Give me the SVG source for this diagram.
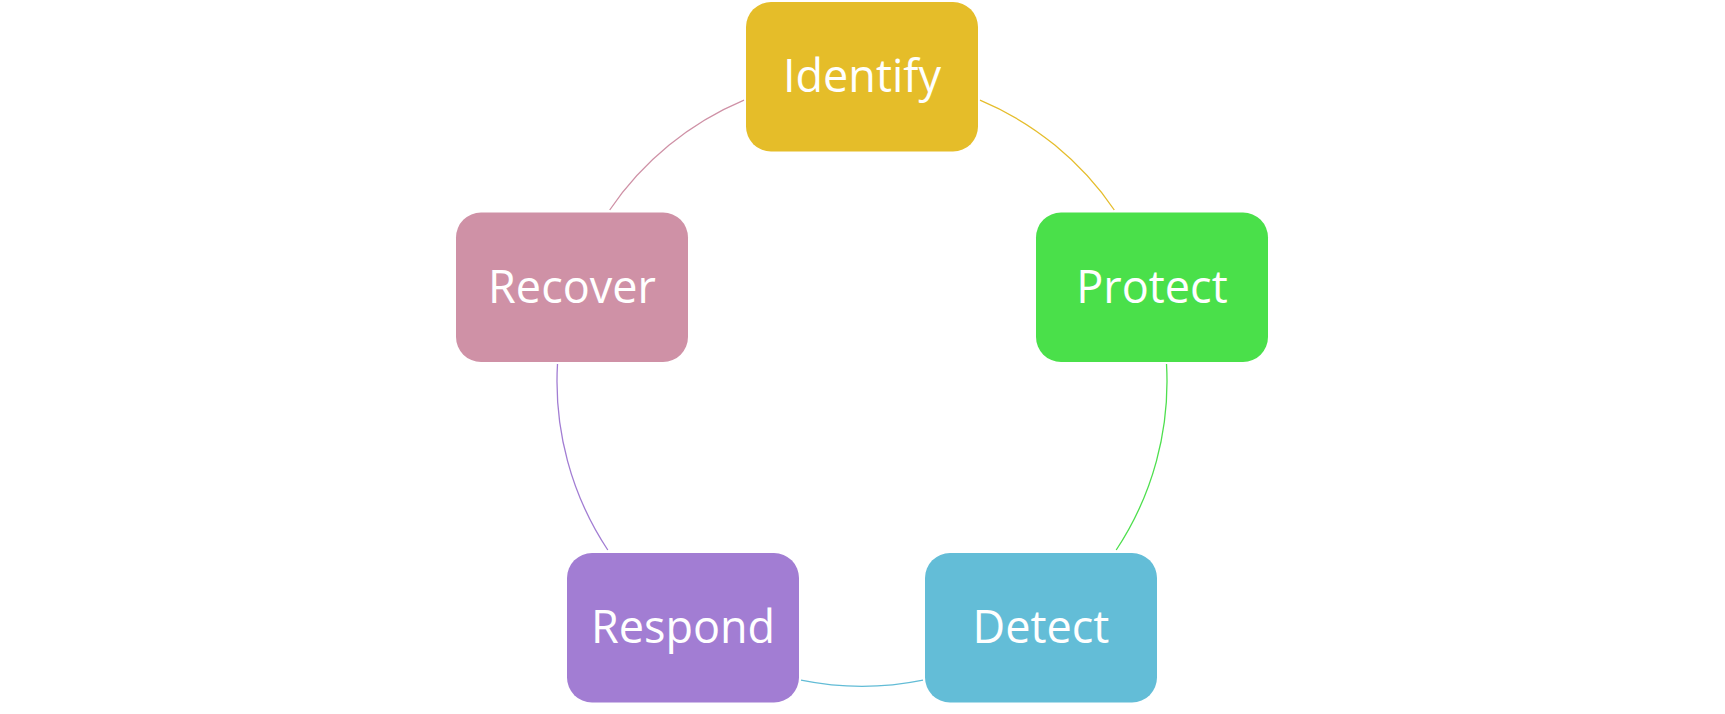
<svg xmlns="http://www.w3.org/2000/svg" width="1725" height="714" viewBox="0 0 1725 714">
<style>
.box{stroke:none}
.lbl{font-family:"Open Sans","Noto Sans","Liberation Sans",sans-serif;font-size:45px;fill:#ffffff;text-anchor:middle}
.arc{fill:none;stroke-width:1.3}
</style>
<rect width="1725" height="714" fill="#ffffff"/>
<g id="connectors">
<path class="arc" stroke="#E5BD2C" d="M980,100.2 A305,305 0 0 1 1114.3,210"/>
<path class="arc" stroke="#4EDF4E" d="M1166.5,364 A305,305 0 0 1 1116.2,550"/>
<path class="arc" stroke="#62BCD6" d="M923,680.2 A305,305 0 0 1 801,680.2"/>
<path class="arc" stroke="#A27DD3" d="M607.8,550 A305,305 0 0 1 557.5,364"/>
<path class="arc" stroke="#CF91A6" d="M609.7,210 A305,305 0 0 1 744,100.2"/>
</g>
<g id="identify">
<rect class="box" x="746" y="2" width="232" height="149.5" rx="25" fill="#E5BD29"/>
<text class="lbl" x="862" y="92">Identify</text>
</g>
<g id="protect">
<rect class="box" x="1036" y="212.5" width="232" height="149.5" rx="25" fill="#4AE04A"/>
<text class="lbl" x="1152" y="303">Protect</text>
</g>
<g id="detect">
<rect class="box" x="925" y="553" width="232" height="149.5" rx="25" fill="#63BDD7"/>
<text class="lbl" x="1041" y="643">Detect</text>
</g>
<g id="respond">
<rect class="box" x="567" y="553" width="232" height="149.5" rx="25" fill="#A27DD3"/>
<text class="lbl" x="683" y="643">Respond</text>
</g>
<g id="recover">
<rect class="box" x="456" y="212.5" width="232" height="149.5" rx="25" fill="#CF91A6"/>
<text class="lbl" x="572" y="303">Recover</text>
</g>
</svg>
